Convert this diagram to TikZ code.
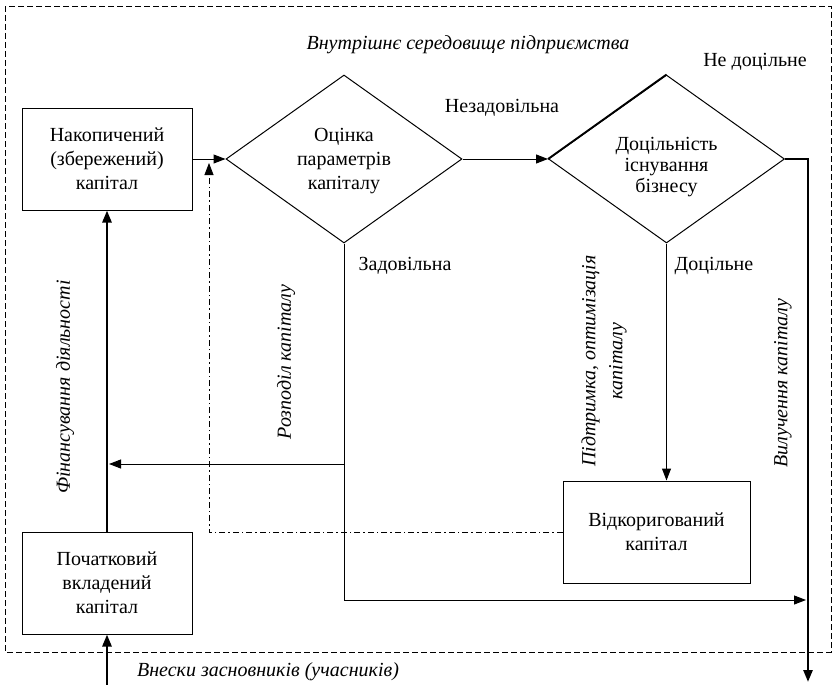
\documentclass[tikz,border=0pt]{standalone}
\usepackage{fontspec}
\setmainfont{Liberation Serif}[Ligatures=TeX]
\newfontfamily\tnr{Liberation Serif}
\usetikzlibrary{shapes.geometric,arrows.meta}
\begin{document}
\begin{tikzpicture}[x=1pt,y=-1pt,
  font=\tnr\fontsize{20}{24}\selectfont,
  box/.style={draw,line width=1pt,minimum width=170pt,align=center,inner sep=0pt},
  dia/.style={draw,line width=1pt,diamond,minimum width=236pt,minimum height=168pt,inner sep=0pt},
  conn/.style={line width=1pt},
  heavy/.style={line width=2.6pt},
  tip/.style={-{Triangle[length=12pt,width=9pt]}},
  ital/.style={font=\tnr\fontsize{20}{24}\selectfont\itshape},
  dashdot/.style={line width=0.8pt,dash pattern=on 6pt off 3pt on 1.5pt off 3pt}]
\useasboundingbox (0,0) rectangle (838,685);
\draw[line width=0.8pt,dash pattern=on 6pt off 3pt] (5,6) rectangle (831,652);
\node[ital] (env) at (468,45) {Внутрішнє середовище підприємства};
% nodes
\node[box,minimum height=102pt] (b1) at (107,159) {Накопичений\\(збережений)\\капітал};
\node[box,minimum height=102pt] (b2) at (107,583) {Початковий\\вкладений\\капітал};
\node[box,minimum width=187pt,minimum height=102pt] (b3) at (656.5,532) {Відкоригований\\капітал};
\node[dia] (d1) at (344,159) {};
\node[align=center] (t1) at (344,161) {Оцінка\\параметрів\\капіталу};
\node[dia] (d2) at (666.5,159) {};
\node[align=center,font=\tnr\fontsize{20}{21}\selectfont] (t2) at (666.5,167) {Доцільність\\існування\\бізнесу};
% labels
\node (lnez) at (502,108) {Незадовільна};
\node (lnd) at (755,62) {Не доцільне};
\node (lzad) at (405,266) {Задовільна};
\node (ldoc) at (714,266) {Доцільне};
\node[ital,rotate=90] (lfin) at (65,387) {Фінансування діяльності};
\node[ital,rotate=90] (lroz) at (286,362) {Розподіл капіталу};
\node[ital,rotate=90,align=center,font=\tnr\fontsize{20}{27}\selectfont\itshape] (lpid) at (604,361) {Підтримка, оптимізація\\капіталу};
\node[ital,rotate=90] (lvyl) at (783,383) {Вилучення капіталу};
\node[ital] (lvn) at (268,672) {Внески засновників (учасників)};
% coordinates
\coordinate (c1) at (808,159);
\coordinate (c2) at (808,682);
\coordinate (c3) at (344,600);
\coordinate (c4) at (806,600);
\coordinate (c5) at (344,464);
\coordinate (c6) at (109,464);
\coordinate (c7) at (107,685);
\coordinate (c8) at (209,532);
\coordinate (c9) at (209,163);
% connectors
\draw[conn,tip] (b1.east) -- (d1.west);
\draw[conn,tip] (d1.east) -- (d2.west);
\draw[line width=1.8pt] (d2.west) -- (d2.north);
\draw[heavy,tip] (d2.east) -- (c1) -- (c2);
\draw[conn,tip] (d2.south) -- (d2.south |- b3.north);
\draw[conn,tip] (d1.south) -- (c3) -- (c4);
\draw[conn,tip] (c5) -- (c6);
\draw[heavy,tip] (b2.north) -- (b1.south);
\draw[heavy,tip] (c7) -- (b2.south);
\draw[dashdot,tip] (b3.west) -- (c8) -- (c9);
\end{tikzpicture}
\end{document}
